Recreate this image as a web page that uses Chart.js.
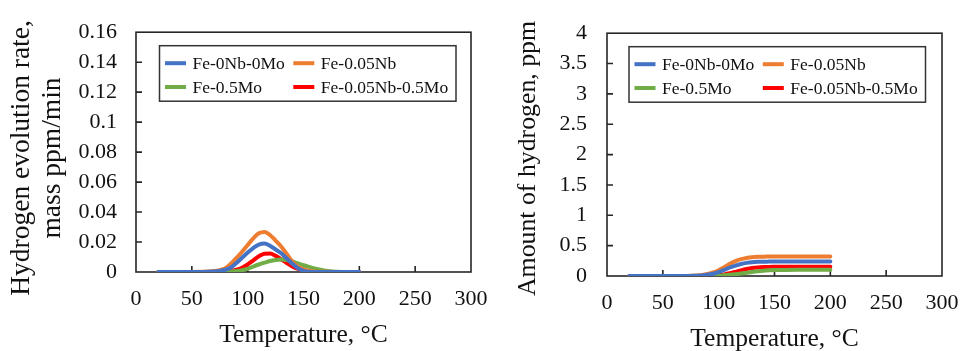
<!DOCTYPE html>
<html>
<head>
<meta charset="utf-8">
<title>Hydrogen thermal desorption</title>
<script src="https://cdn.jsdelivr.net/npm/chart.js@4.4.1/dist/chart.umd.min.js"></script>
<style>
  html, body { margin: 0; padding: 0; background: #fff; width: 964px; height: 351px; overflow: hidden; }
  canvas { position: absolute; top: 0; }
  #rateChart { left: 0; }
  #amountChart { left: 490px; }
</style>
</head>
<body>
<canvas id="rateChart" width="490" height="351"></canvas>
<canvas id="amountChart" width="474" height="351"></canvas>
<script>
// Temperature grid shared by every series (°C)
const temps = [20, 40, 60, 70, 75, 80, 85, 90, 95, 100, 105, 110, 115, 120, 125, 130, 135, 140, 145, 150, 155, 160, 170, 180, 190, 200];

const seriesNames = ['Fe-0Nb-0Mo', 'Fe-0.05Nb', 'Fe-0.5Mo', 'Fe-0.05Nb-0.5Mo'];
const seriesColors = ['#4472C4', '#ED7D31', '#70AD47', '#FF0000'];

// Hydrogen evolution rate, mass ppm/min
const rate0Nb0Mo   = [0, 0, 0, 0.0003, 0.0007, 0.0015, 0.0030, 0.0060, 0.0095, 0.0130, 0.0160, 0.0183, 0.0190, 0.0175, 0.0150, 0.0125, 0.0090, 0.0055, 0.0025, 0.0008, 0.0002, 0, 0, 0, 0, 0];
const rate005Nb    = [0, 0, 0.0001, 0.0006, 0.0012, 0.0025, 0.0055, 0.0095, 0.0135, 0.0180, 0.0225, 0.0258, 0.0267, 0.0247, 0.0210, 0.0170, 0.0120, 0.0070, 0.0035, 0.0018, 0.0009, 0.0004, 0.0001, 0, 0, 0];
const rate05Mo     = [0, 0, 0, 0, 0, 0.0001, 0.0003, 0.0006, 0.0012, 0.0021, 0.0036, 0.0050, 0.0062, 0.0073, 0.0080, 0.0083, 0.0080, 0.0070, 0.0057, 0.0045, 0.0034, 0.0024, 0.0008, 0.0002, 0, 0];
const rate005Nb05Mo = [0, 0, 0, 0, 0.0001, 0.0003, 0.0008, 0.0015, 0.0028, 0.0050, 0.0078, 0.0105, 0.0122, 0.0123, 0.0108, 0.0085, 0.0060, 0.0037, 0.0020, 0.0009, 0.0003, 0.0001, 0, 0, 0, 0];

// Cumulative amount of hydrogen, ppm
const amount0Nb0Mo   = [0, 0, 0, 0.001, 0.002, 0.004, 0.010, 0.020, 0.037, 0.065, 0.100, 0.140, 0.172, 0.198, 0.216, 0.227, 0.233, 0.236, 0.237, 0.238, 0.238, 0.238, 0.238, 0.238, 0.238, 0.238];
const amount005Nb    = [0, 0, 0, 0.001, 0.003, 0.008, 0.018, 0.034, 0.058, 0.095, 0.145, 0.200, 0.245, 0.278, 0.298, 0.310, 0.316, 0.319, 0.320, 0.321, 0.321, 0.322, 0.322, 0.322, 0.322, 0.322];
const amount05Mo     = [0, 0, 0, 0, 0, 0, 0, 0.001, 0.003, 0.006, 0.011, 0.019, 0.029, 0.041, 0.054, 0.067, 0.078, 0.087, 0.093, 0.097, 0.099, 0.100, 0.101, 0.101, 0.101, 0.101];
const amount005Nb05Mo = [0, 0, 0, 0, 0, 0.001, 0.002, 0.004, 0.008, 0.015, 0.027, 0.045, 0.068, 0.093, 0.115, 0.131, 0.141, 0.147, 0.150, 0.151, 0.152, 0.152, 0.152, 0.152, 0.152, 0.152];

// Axis tick values
const tempTicks = [0, 50, 100, 150, 200, 250, 300];
const rateTicks = [0, 0.02, 0.04, 0.06, 0.08, 0.1, 0.12, 0.14, 0.16];
const amountTicks = [0, 0.5, 1, 1.5, 2, 2.5, 3, 3.5, 4];

const FONT = "'Liberation Serif', 'Times New Roman', serif";
const INK = '#111';

function buildDatasets(seriesList) {
  return seriesList.map((vals, i) => ({
    label: seriesNames[i],
    data: temps.map((t, k) => ({ x: t, y: vals[k] })),
    borderColor: seriesColors[i],
    backgroundColor: seriesColors[i],
    borderWidth: 4,
    borderCapStyle: 'round',
    borderJoinStyle: 'round',
    pointRadius: 0,
    cubicInterpolationMode: 'monotone',
    fill: false
  }));
}

// Box frame with inward ticks, axis titles and a boxed two-column legend
const panelDecor = {
  id: 'panelDecor',
  beforeDatasetsDraw(chart, args, o) {
    const { ctx, chartArea: a, scales } = chart;
    ctx.save();
    ctx.strokeStyle = '#262626';
    ctx.lineWidth = 1.6;
    ctx.strokeRect(a.left, a.top, a.right - a.left, a.bottom - a.top);
    ctx.beginPath();
    scales.x.ticks.forEach(t => {
      const px = scales.x.getPixelForValue(t.value);
      if (px > a.left + 1 && px < a.right - 1) { ctx.moveTo(px, a.bottom); ctx.lineTo(px, a.bottom - 6); }
    });
    scales.y.ticks.forEach(t => {
      const py = scales.y.getPixelForValue(t.value);
      if (py > a.top + 1 && py < a.bottom - 1) { ctx.moveTo(a.left, py); ctx.lineTo(a.left + 6, py); }
    });
    ctx.stroke();

    // axis titles
    ctx.fillStyle = INK;
    ctx.textAlign = 'center';
    ctx.textBaseline = 'alphabetic';
    ctx.font = o.xTitleSize + 'px ' + FONT;
    ctx.fillText(o.xTitle, (a.left + a.right) / 2, o.xTitleBaseline);
    ctx.font = o.yTitleSize + 'px ' + FONT;
    o.yTitle.forEach((line, i) => {
      ctx.save();
      ctx.translate(o.yTitleBaselines[i], o.yTitleCenter);
      ctx.rotate(-Math.PI / 2);
      ctx.fillText(line, 0, 0);
      ctx.restore();
    });
    ctx.restore();
  },
  afterDatasetsDraw(chart, args, o) {
    const { ctx, chartArea: a } = chart;
    const x0 = a.left + o.legendDx, y0 = a.top + 13.5;
    const w = 296.5, h = 55.5;
    ctx.save();
    ctx.fillStyle = '#fff';
    ctx.fillRect(x0, y0, w, h);
    ctx.strokeStyle = '#333';
    ctx.lineWidth = 1.5;
    ctx.strokeRect(x0, y0, w, h);
    ctx.font = '17.5px ' + FONT;
    ctx.textBaseline = 'middle';
    ctx.textAlign = 'left';
    chart.data.datasets.forEach((ds, i) => {
      const col = i % 2, row = Math.floor(i / 2);
      const sx = x0 + 5.5 + col * 128.3;
      const sy = y0 + 17.5 + row * 23.8;
      ctx.strokeStyle = ds.borderColor;
      ctx.lineWidth = 4;
      ctx.lineCap = 'butt';
      ctx.beginPath();
      ctx.moveTo(sx, sy);
      ctx.lineTo(sx + 21, sy);
      ctx.stroke();
      ctx.fillStyle = INK;
      ctx.fillText(ds.label, sx + 27.5, sy + 1);
    });
    ctx.restore();
  }
};

function makeChart(canvasId, seriesList, yTicks, geo, decor) {
  return new Chart(document.getElementById(canvasId), {
    type: 'line',
    data: { datasets: buildDatasets(seriesList) },
    options: {
      responsive: false,
      animation: false,
      devicePixelRatio: 1,
      layout: { padding: { left: 0, top: geo.top, right: geo.right, bottom: 0 } },
      scales: {
        x: {
          type: 'linear',
          min: tempTicks[0],
          max: tempTicks[tempTicks.length - 1],
          afterBuildTicks: s => { s.ticks = tempTicks.map(v => ({ value: v })); },
          afterFit: s => { s.height = geo.xAxisHeight; s.paddingLeft = 0; s.paddingRight = 0; },
          grid: { display: false, drawTicks: false },
          border: { display: false },
          ticks: {
            autoSkip: false, maxRotation: 0, padding: geo.xTickPad,
            color: INK, font: { family: FONT, size: 22 },
            callback: v => String(v)
          }
        },
        y: {
          type: 'linear',
          min: yTicks[0],
          max: yTicks[yTicks.length - 1],
          afterBuildTicks: s => { s.ticks = yTicks.map(v => ({ value: v })); },
          afterFit: s => { s.width = geo.yAxisWidth; },
          grid: { display: false, drawTicks: false },
          border: { display: false },
          ticks: {
            autoSkip: false, padding: geo.yTickPad,
            color: INK, font: { family: FONT, size: 22 },
            callback: v => String(v)
          }
        }
      },
      plugins: {
        legend: { display: false },
        tooltip: { enabled: false },
        panelDecor: decor
      }
    },
    plugins: [panelDecor]
  });
}

makeChart('rateChart',
  [rate0Nb0Mo, rate005Nb, rate05Mo, rate005Nb05Mo],
  rateTicks,
  { top: 17, right: 19, yAxisWidth: 136, xAxisHeight: 79, yTickPad: 19, xTickPad: 14 },
  {
    xTitle: 'Temperature, °C', xTitleBaseline: 342, xTitleSize: 25.5,
    yTitle: ['Hydrogen evolution rate,', 'mass ppm/min'], yTitleBaselines: [29, 60], yTitleCenter: 158, yTitleSize: 27.5,
    legendDx: 23.5
  });

makeChart('amountChart',
  [amount0Nb0Mo, amount005Nb, amount05Mo, amount005Nb05Mo],
  amountTicks,
  { top: 19, right: 22, yAxisWidth: 117, xAxisHeight: 75, yTickPad: 20, xTickPad: 14 },
  {
    xTitle: 'Temperature, °C', xTitleBaseline: 345.5, xTitleSize: 25.5,
    yTitle: ['Amount of hydrogen, ppm'], yTitleBaselines: [45], yTitleCenter: 158.5, yTitleSize: 25.8,
    legendDx: 22
  });
</script>
</body>
</html>
